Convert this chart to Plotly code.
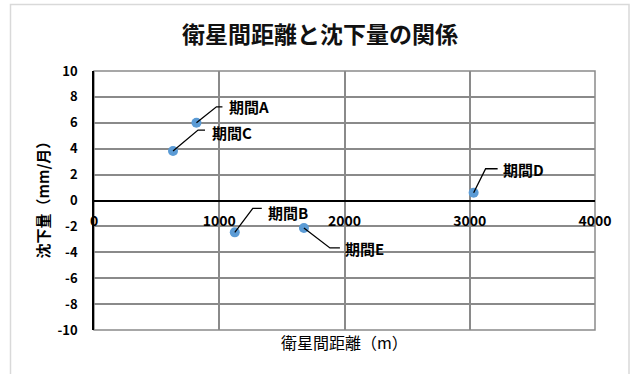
import plotly.graph_objects as go

# Satellite separation (m) vs. subsidence rate (mm/month) per period
periods = ["期間A", "期間B", "期間C", "期間D", "期間E"]
distance_m = [818, 1124, 631, 3031, 1676]
subsidence = [6.0, -2.46, 3.82, 0.6, -2.12]

x_ticks = [0, 1000, 2000, 3000, 4000]
y_ticks = [-10, -8, -6, -4, -2, 0, 2, 4, 6, 8, 10]

# Leader-line geometry for each label, in screen pixels relative to its point:
# (elbow dx, elbow dy, end dx, text x-shift, text y-shift); dy positive = up
leaders = {
    "期間A": (20, 16, 26, 31, 16),
    "期間B": (18, 24, 27, 31, 20),
    "期間C": (25, 21, 32, 37, 19),
    "期間D": (12, 24, 24, 27, 23),
    "期間E": (26, -20, 36, 39, -21),
}

W, H = 631, 374
ML, MR, MT, MB = 94, 36, 71, 44
PW, PH = W - ML - MR, H - MT - MB

GRID = "#8a8a8a"
FONT = "Noto Sans CJK JP"

fig = go.Figure()
fig.add_trace(go.Scatter(
    x=distance_m, y=subsidence, mode="markers",
    marker=dict(size=10, color="#5b9bd5"),
    hoverinfo="x+y", showlegend=False,
))

shapes = []
annotations = []
for name, xv, yv in zip(periods, distance_m, subsidence):
    ex, ey, hx, tx, ty = leaders[name]
    shapes.append(dict(
        type="path", xref="x", yref="y",
        xsizemode="pixel", ysizemode="pixel",
        xanchor=xv, yanchor=yv,
        path=f"M0,0 L{ex},{ey} L{hx},{ey}",
        line=dict(color="black", width=1.3),
    ))
    annotations.append(dict(
        x=xv, y=yv, xref="x", yref="y", text=f"<b>{name}</b>",
        showarrow=False, xanchor="left", yanchor="middle",
        xshift=tx, yshift=ty,
        font=dict(family=FONT, size=15, color="black"),
    ))

# Plot-area frame (right / top / bottom edges in grid grey)
shapes.append(dict(type="rect", xref="paper", yref="paper", x0=0, x1=1, y0=0, y1=1,
                   line=dict(color=GRID, width=1.5), layer="below"))
# Light outer border around the whole chart
shapes.append(dict(
    type="rect", xref="paper", yref="paper",
    x0=(10.5 - ML) / PW, x1=(629 - ML) / PW,
    y0=(H - MB - 390) / PH, y1=(H - MB - 4.5) / PH,
    line=dict(color="#d9d9d9", width=1.5), layer="below",
))

# Axis titles
annotations.append(dict(
    x=0.5, y=0, xref="paper", yref="paper", text="衛星間距離（m）",
    showarrow=False, xanchor="center", yanchor="middle", yshift=-12,
    font=dict(family=FONT, size=16, color="black"),
))
annotations.append(dict(
    x=0, y=0.5, xref="paper", yref="paper", text="<b>沈下量（mm/月）</b>",
    showarrow=False, xanchor="center", yanchor="middle", xshift=-52, yshift=4,
    textangle=-90, font=dict(family=FONT, size=15, color="black"),
))

fig.update_layout(
    width=W, height=H,
    margin=dict(l=ML, r=MR, t=MT, b=MB, pad=0),
    paper_bgcolor="white", plot_bgcolor="white",
    title=dict(text="<b>衛星間距離と沈下量の関係</b>", x=0.507, xanchor="center",
               y=1 - 35 / H, yanchor="middle",
               font=dict(family=FONT, size=23, color="#111111")),
    xaxis=dict(
        range=[0, 4000], tickvals=x_ticks, ticktext=[str(v) for v in x_ticks],
        showgrid=True, gridcolor=GRID, gridwidth=1.5,
        zeroline=False, showline=True, linecolor="black", linewidth=1.6,
        anchor="free", position=0.5,
        ticks="outside", ticklen=0, ticklabelstandoff=8,
        tickfont=dict(family=FONT, size=14, color="black", weight="bold"),
    ),
    yaxis=dict(
        range=[-10, 10], tickvals=y_ticks, ticktext=[str(v) for v in y_ticks],
        showgrid=True, gridcolor=GRID, gridwidth=1.5,
        zeroline=False, showline=True, linecolor="black", linewidth=1.6,
        ticks="", ticklabelstandoff=12,
        tickfont=dict(family=FONT, size=13, color="black", weight="bold"),
    ),
    shapes=shapes, annotations=annotations,
)

fig.write_html("out.html")
